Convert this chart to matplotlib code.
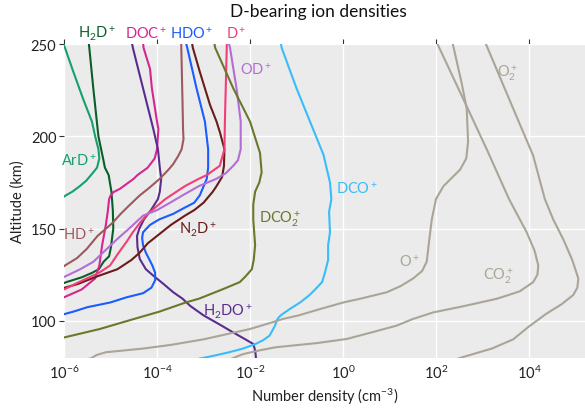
import numpy as np
import matplotlib
matplotlib.use("Agg")
import matplotlib.pyplot as plt
import matplotlib.transforms as mtransforms

# ---------------- data (altitude in km, log10 number density in cm^-3) -------------
ard_alt = [251, 248, 235, 220, 208, 200, 193, 188, 183, 180.5, 176, 173, 170, 168, 166]
ard_log = [-6.03, -5.98, -5.80, -5.585, -5.40, -5.33, -5.26, -5.24, -5.29, -5.37, -5.52, -5.66, -5.82, -5.96, -6.08]

h2d_alt = [251, 248, 226, 200, 188, 183, 179, 170, 160, 150, 140, 135, 132, 128, 126, 123.6, 121, 119.5]
h2d_log = [-5.47, -5.456, -5.37, -5.26, -5.16, -5.12, -5.04, -4.98, -4.95, -4.94, -4.99, -5.03, -5.15, -5.25, -5.40, -5.62, -5.95, -6.1]

doc_alt = [251, 248, 236.5, 226, 208, 204, 193, 188, 183, 179, 177, 171.5, 169.7, 167.8, 166, 159, 152, 141, 130, 123, 117, 113, 111.5]
doc_log = [-4.30, -4.29, -4.15, -4.11, -4.00, -3.97, -4.00, -4.05, -4.20, -4.42, -4.50, -4.80, -4.94, -5.00, -5.03, -5.06, -5.10, -5.18, -5.24, -5.33, -5.62, -5.98, -6.1]

h2do_alt = [251, 248, 226, 204, 193, 183, 177, 170, 166, 160, 155, 150, 146, 140, 133.5, 128, 124.5, 120, 115.5, 112, 108, 103, 98, 94, 90, 87.5, 85, 82, 79]
h2do_log = [-4.54, -4.52, -4.30, -4.08, -3.98, -3.94, -3.91, -3.94, -3.98, -4.13, -4.28, -4.38, -4.43, -4.42, -4.37, -4.24, -4.08, -3.86, -3.65, -3.45, -3.28, -3.00, -2.65, -2.38, -2.10, -1.93, -1.90, -1.88, -1.87]

hd_alt = [251, 217, 204, 198.5, 193, 189.5, 185, 182, 177, 172, 168, 162, 158, 153, 146, 139, 134, 130, 128.5]
hd_log = [-3.48, -3.45, -3.44, -3.43, -3.47, -3.54, -3.65, -3.75, -3.94, -4.17, -4.37, -4.62, -4.78, -4.96, -5.28, -5.51, -5.72, -5.98, -6.06]

hdo_alt = [251, 248, 226, 208, 193, 183, 177, 168, 164, 161, 158, 155, 152, 148, 145, 141, 137, 130, 126, 122, 118, 115, 112.8, 110, 107.4, 105, 103.5]
hdo_log = [-3.38, -3.35, -3.15, -2.97, -2.90, -2.90, -2.93, -3.08, -3.20, -3.43, -3.65, -3.95, -4.15, -4.30, -4.32, -4.30, -4.24, -4.10, -4.04, -4.04, -4.12, -4.30, -4.65, -5.00, -5.50, -5.80, -6.02]

n2d_alt = [251, 248, 235, 226, 217, 208, 202, 193, 184, 178, 173, 170, 164, 160, 157, 152, 146, 142, 137, 133, 128, 124, 120, 117.5]
n2d_log = [-3.25, -3.23, -3.08, -2.97, -2.86, -2.72, -2.645, -2.55, -2.56, -2.60, -2.72, -2.80, -3.00, -3.20, -3.40, -3.70, -4.00, -4.20, -4.37, -4.55, -4.85, -5.30, -5.70, -6.05]

dp_alt = [251, 248, 208, 193, 184, 179, 177, 173, 170, 166, 162, 158, 153, 148, 143, 136, 130, 126, 123, 120, 117, 116]
dp_log = [-2.50, -2.50, -2.54, -2.55, -2.65, -2.93, -3.10, -3.40, -3.58, -3.82, -4.01, -4.20, -4.37, -4.52, -4.65, -4.85, -5.01, -5.25, -5.51, -5.76, -6.00, -6.10]

od_alt = [251, 248, 226, 208, 193, 187, 184, 180, 177, 173, 168, 164, 160, 157, 150, 144, 138, 132, 128, 124, 123]
od_log = [-2.46, -2.43, -2.29, -2.20, -2.20, -2.26, -2.36, -2.52, -2.72, -3.10, -3.45, -3.72, -4.00, -4.30, -4.60, -4.87, -5.12, -5.37, -5.65, -5.98, -6.08]

dco2_alt = [251, 248, 226, 208, 191, 180.5, 175, 170, 163, 155, 148, 141, 133, 128, 124, 121, 117, 112, 110, 105, 101, 95.6, 91, 89]
dco2_log = [-2.77, -2.75, -2.36, -2.00, -1.785, -1.75, -1.80, -1.89, -1.93, -1.93, -1.91, -1.89, -1.92, -1.96, -2.10, -2.22, -2.60, -3.10, -3.38, -3.95, -4.50, -5.23, -6.00, -6.30]

dco_alt = [251, 248, 226, 208, 190, 175, 166, 159, 148, 141, 133, 126, 121, 117, 114, 110, 106.5, 103, 101, 97, 92, 89.5, 87.5, 85, 83, 81, 79.5]
dco_log = [-1.34, -1.32, -1.00, -0.71, -0.42, -0.28, -0.25, -0.30, -0.28, -0.32, -0.32, -0.39, -0.45, -0.60, -0.72, -0.92, -1.14, -1.34, -1.41, -1.47, -1.58, -1.72, -1.88, -2.15, -2.45, -2.80, -3.10]

op_alt = [251, 249, 229, 215, 197, 188, 182, 177, 173, 166, 155, 145, 132, 127, 123, 119, 115.5, 112, 110, 106, 103, 101, 99, 95.6, 90, 87, 85, 83, 81.5, 80, 79]
op_log = [2.35, 2.37, 2.55, 2.66, 2.69, 2.65, 2.52, 2.32, 2.16, 2.00, 1.91, 1.86, 1.80, 1.70, 1.51, 1.25, 0.94, 0.37, 0.01, -0.55, -0.95, -1.30, -1.55, -2.00, -3.00, -3.70, -4.30, -5.10, -5.30, -5.40, -5.50]

co2_alt = [251, 249, 220, 193, 166, 148, 138, 130, 125, 121, 116, 112, 108, 104.6, 101, 97.4, 94, 90.2, 88, 85.7, 84, 82, 80.5, 79]
co2_log = [2.02, 2.05, 2.59, 3.09, 3.57, 3.95, 4.12, 4.20, 4.18, 4.09, 3.80, 3.31, 2.60, 1.94, 1.50, 1.15, 0.65, 0.08, -0.55, -1.45, -1.80, -2.15, -2.30, -2.45]

o2_alt = [251, 249, 215, 189.5, 166, 155, 144, 133, 123, 118, 114, 109, 104, 97, 90, 85, 81, 79]
o2_log = [3.06, 3.09, 3.66, 4.09, 4.34, 4.52, 4.74, 4.93, 5.06, 5.04, 4.95, 4.70, 4.38, 4.00, 3.66, 3.20, 2.66, 2.40]

x_ticks_log = [-6, -4, -2, 0, 2, 4]
y_ticks = [100, 150, 200, 250]

# ---------------- style -------------
FONT = "Lato"
plt.rcParams["font.family"] = [FONT, "DejaVu Sans"]
plt.rcParams["mathtext.fontset"] = "custom"
plt.rcParams["mathtext.rm"] = FONT
plt.rcParams["mathtext.it"] = FONT + ":italic"
plt.rcParams["mathtext.bf"] = FONT + ":bold"
plt.rcParams["mathtext.default"] = "regular"

GRAY = "#aaa596"
series = [
    (ard_alt, ard_log, "#17a06b"),
    (h2d_alt, h2d_log, "#0b5e2a"),
    (doc_alt, doc_log, "#d5278f"),
    (h2do_alt, h2do_log, "#5a2c8e"),
    (hd_alt, hd_log, "#9c5a60"),
    (hdo_alt, hdo_log, "#1a5cff"),
    (n2d_alt, n2d_log, "#6a1c1c"),
    (dp_alt, dp_log, "#f23d78"),
    (od_alt, od_log, "#b26ed6"),
    (dco2_alt, dco2_log, "#6b782b"),
    (dco_alt, dco_log, "#38bdf8"),
    (op_alt, op_log, GRAY),
    (co2_alt, co2_log, GRAY),
    (o2_alt, o2_log, GRAY),
]

W, H = 585, 410
fig = plt.figure(figsize=(W / 100, H / 100), dpi=100)
ax_l, ax_r, ax_t, ax_b = 64, 585, 45, 358.8
ax = fig.add_axes([ax_l / W, (H - ax_b) / H, (ax_r - ax_l) / W, (ax_b - ax_t) / H])
ax.set_facecolor("#ebebeb")
for s in ax.spines.values():
    s.set_visible(False)

for alt, lg, col in series:
    ax.plot(10.0 ** np.array(lg), alt, color=col, lw=1.5,
            solid_capstyle="round", solid_joinstyle="round")

ax.set_xscale("log")
ax.set_xlim(1e-6, 10 ** 5.204)
ax.set_ylim(80, 250)
ax.set_xticks([10.0 ** k for k in x_ticks_log])
ax.set_xticklabels([r"$10^{%d}$" % k for k in x_ticks_log])
ax.minorticks_off()
ax.set_yticks(y_ticks)
ax.grid(True, color="white", lw=1.0)
ax.set_axisbelow(True)
ax.tick_params(axis="x", which="major", top=True, bottom=False, labeltop=False,
               labelbottom=True, direction="out", length=3.5, width=0.8,
               color="#333333", labelsize=10.5, labelcolor="#222222", pad=1)
ax.tick_params(axis="y", which="major", left=True, direction="out", length=3.5,
               width=0.8, color="#333333", labelsize=10.5, labelcolor="#222222", pad=2)

ax.set_xlabel(r"Number density (cm$^{-3}$)", fontsize=10.5, color="#222222", labelpad=3)
ax.set_ylabel("Altitude (km)", fontsize=10.5, color="#222222", labelpad=4)

fig.text(318 / W, 1 - 12 / H, "D-bearing ion densities", ha="center", va="center",
         fontsize=12.5, color="#111111")

# in-plot labels
labels = [
    (r"ArD$^+$", -5.69, 187.3, "#17a06b"),
    (r"HD$^+$", -5.69, 146.8, "#9c5a60"),
    (r"N$_2$D$^+$", -3.11, 150.0, "#6a1c1c"),
    (r"DCO$_2^+$", -1.36, 155.7, "#6b782b"),
    (r"DCO$^+$", 0.30, 172.0, "#38bdf8"),
    (r"OD$^+$", -1.87, 236.5, "#b26ed6"),
    (r"H$_2$DO$^+$", -2.48, 105.3, "#5a2c8e"),
    (r"O$^+$", 1.42, 132.2, GRAY),
    (r"CO$_2^+$", 3.35, 125.0, GRAY),
    (r"O$_2^+$", 3.54, 234.7, GRAY),
]
for txt, lx, ly, col in labels:
    ax.text(10.0 ** lx, ly, txt, color=col, fontsize=10.5, ha="center", va="center")

# labels above the axes
top_labels = [
    (r"H$_2$D$^+$", -5.30, "#0b5e2a"),
    (r"DOC$^+$", -4.23, "#d5278f"),
    (r"HDO$^+$", -3.25, "#1a5cff"),
    (r"D$^+$", -2.29, "#f23d78"),
]
trans = mtransforms.blended_transform_factory(ax.transData, ax.transAxes)
for txt, lx, col in top_labels:
    ax.text(10.0 ** lx, 1.036, txt, color=col, fontsize=10.5, ha="center",
            va="center", transform=trans, clip_on=False)

fig.savefig("out.png", dpi=100)
